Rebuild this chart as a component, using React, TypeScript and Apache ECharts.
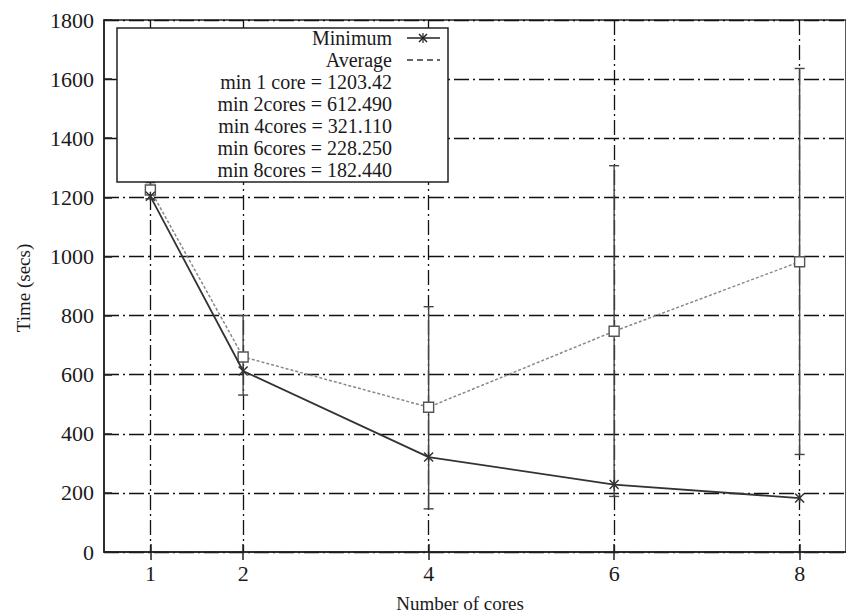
import React, { useEffect, useRef } from "react";
import * as echarts from "echarts";

const cores = [1, 2, 4, 6, 8];
const minimumTimes = [1203.42, 612.49, 321.11, 228.25, 182.44];
const averageTimes = [1225, 660, 490, 747, 982];
const averageLow = [1195, 531, 146, 188, 330];
const averageHigh = [1250, 800, 830, 1307, 1636];
const minLabels = ["min 1 core", "min 2cores", "min 4cores", "min 6cores", "min 8cores"];
const yTicks = [0, 200, 400, 600, 800, 1000, 1200, 1400, 1600, 1800];

const FONT = "'Liberation Serif', 'DejaVu Serif', serif";
const GRID_DASH = [15, 4, 2, 4];

export default function App() {
  const ref = useRef<HTMLDivElement>(null);
  useEffect(() => {
    if (!ref.current) return;
    const chart = echarts.init(ref.current, null, { renderer: "svg" });

    const legendRows = [
      "Minimum",
      "Average",
      ...minLabels.map((l, i) => `${l} = ${minimumTimes[i].toPrecision(6)}`),
    ];
    const rowY = (i: number) => 38 + i * 22;
    const textRight = 392;
    const Z = 100;

    const legendChildren: any[] = [
      {
        type: "rect",
        z: Z,
        shape: { x: 117, y: 28, width: 331, height: 154 },
        style: { fill: "#fff", stroke: "#222", lineWidth: 1.5 },
      },
      ...legendRows.map((t, i) => ({
        type: "text",
        z: Z + 1,
        x: textRight,
        y: rowY(i),
        style: {
          text: t,
          font: `20px ${FONT}`,
          fill: "#1a1a1a",
          textAlign: "right",
          textVerticalAlign: "middle",
        },
      })),
      {
        type: "line",
        z: Z + 1,
        shape: { x1: 407, y1: rowY(0), x2: 440, y2: rowY(0) },
        style: { stroke: "#222", lineWidth: 1.5 },
      },
      {
        type: "line",
        z: Z + 1,
        shape: { x1: 419, y1: rowY(0) - 4, x2: 427, y2: rowY(0) + 4 },
        style: { stroke: "#222", lineWidth: 1.5 },
      },
      {
        type: "line",
        z: Z + 1,
        shape: { x1: 427, y1: rowY(0) - 4, x2: 419, y2: rowY(0) + 4 },
        style: { stroke: "#222", lineWidth: 1.5 },
      },
      {
        type: "line",
        z: Z + 1,
        shape: { x1: 423, y1: rowY(0) - 5, x2: 423, y2: rowY(0) + 5 },
        style: { stroke: "#222", lineWidth: 1.2 },
      },
      {
        type: "line",
        z: Z + 1,
        shape: { x1: 407, y1: rowY(1), x2: 440, y2: rowY(1) },
        style: { stroke: "#333", lineWidth: 1.5, lineDash: [6, 4] },
      },
    ];

    const option: any = {
      animation: false,
      backgroundColor: "#fff",
      textStyle: { fontFamily: FONT },
      grid: {
        left: 104,
        top: 20,
        width: 750,
        height: 532,
        show: true,
        borderColor: "#222",
        borderWidth: 1.5,
        backgroundColor: "transparent",
      },
      xAxis: [
        {
          type: "value",
          min: 0.5,
          max: 8.5,
          position: "bottom",
          axisLine: { show: true, onZero: false, lineStyle: { color: "#222", width: 1.5 } },
          axisTick: { show: true, inside: true, length: 8, customValues: cores, lineStyle: { color: "#222", width: 1.5 } },
          axisLabel: {
            customValues: cores,
            color: "#1a1a1a",
            fontSize: 22,
            fontFamily: FONT,
            margin: 10,
          },
          splitLine: { show: true, lineStyle: { color: "#111", width: 1.3, type: GRID_DASH } },
        },
        {
          type: "value",
          min: 0.5,
          max: 8.5,
          position: "top",
          axisLine: { show: false },
          axisTick: { show: true, inside: true, length: 8, customValues: cores, lineStyle: { color: "#222", width: 1.5 } },
          axisLabel: { show: false },
          splitLine: { show: false },
        },
      ],
      yAxis: {
        type: "value",
        min: 0,
        max: 1800,
        interval: 200,
        axisLine: { show: true, lineStyle: { color: "#222", width: 1.5 } },
        axisTick: { show: true, inside: true, length: 8, lineStyle: { color: "#222", width: 1.5 } },
        axisLabel: {
          color: "#1a1a1a",
          fontSize: 22,
          fontFamily: FONT,
          margin: 10,
          formatter: (v: number) => (yTicks.includes(v) ? String(v) : ""),
        },
        splitLine: { show: true, lineStyle: { color: "#111", width: 1.3, type: GRID_DASH } },
      },
      series: [
        {
          name: "AverageErr",
          type: "custom",
          xAxisIndex: 0,
          z: 3,
          data: cores.map((c, i) => [c, averageLow[i], averageHigh[i]]),
          encode: { x: 0, y: [1, 2] },
          renderItem: (params: any, api: any) => {
            const x = api.value(0);
            const lo = api.coord([x, api.value(1)]);
            const hi = api.coord([x, api.value(2)]);
            const w = 5;
            const style = { stroke: "#444", lineWidth: 1.4 };
            return {
              type: "group",
              children: [
                { type: "line", shape: { x1: lo[0], y1: lo[1], x2: hi[0], y2: hi[1] }, style },
                { type: "line", shape: { x1: lo[0] - w, y1: lo[1], x2: lo[0] + w, y2: lo[1] }, style },
                { type: "line", shape: { x1: hi[0] - w, y1: hi[1], x2: hi[0] + w, y2: hi[1] }, style },
              ],
            };
          },
        },
        {
          name: "Average",
          type: "line",
          xAxisIndex: 0,
          z: 4,
          data: cores.map((c, i) => [c, averageTimes[i]]),
          symbol: "rect",
          symbolSize: 10,
          showAllSymbol: true,
          lineStyle: { color: "#888", width: 1.5, type: [3, 2] },
          itemStyle: { color: "#fff", borderColor: "#555", borderWidth: 1.4 },
        },
        {
          name: "Minimum",
          type: "line",
          xAxisIndex: 0,
          z: 5,
          data: cores.map((c, i) => [c, minimumTimes[i]]),
          symbol: "path://M0,0L10,10M10,0L0,10M5,0L5,10",
          symbolSize: 9,
          showAllSymbol: true,
          lineStyle: { color: "#333", width: 1.8 },
          itemStyle: { color: "transparent", borderColor: "#333", borderWidth: 1.5 },
        },
      ],
      graphic: [
        { type: "group", children: legendChildren },
        {
          type: "text",
          z: Z,
          x: 460,
          y: 603,
          style: {
            text: "Number of cores",
            font: `19px ${FONT}`,
            fill: "#1a1a1a",
            textAlign: "center",
            textVerticalAlign: "middle",
          },
        },
        {
          type: "text",
          z: Z,
          x: 23,
          y: 288,
          rotation: Math.PI / 2,
          style: {
            text: "Time (secs)",
            font: `19px ${FONT}`,
            fill: "#1a1a1a",
            textAlign: "center",
            textVerticalAlign: "middle",
          },
        },
      ],
    };
    chart.setOption(option);
    return () => chart.dispose();
  }, []);

  return (
    <div
      ref={ref}
      style={{ position: "absolute", left: 0, top: 0, width: 846, height: 615, background: "#fff" }}
    />
  );
}
